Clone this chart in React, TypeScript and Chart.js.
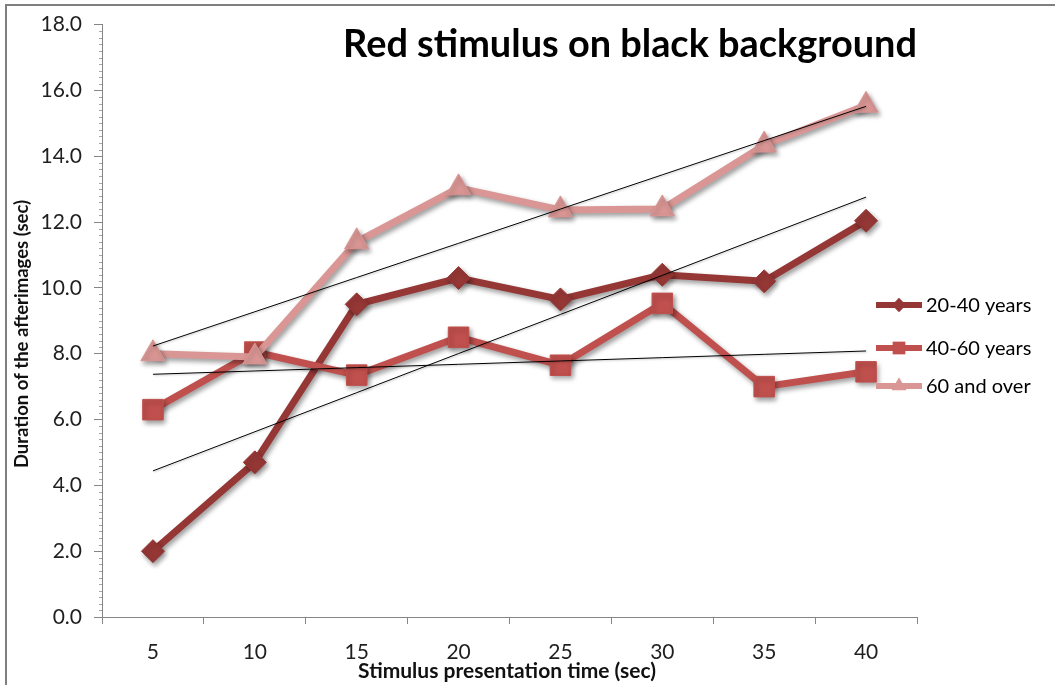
import React, { useEffect, useRef } from "react";
import { Chart, registerables } from "chart.js";

Chart.register(...registerables);

// ---- data ----
const categories = ["5", "10", "15", "20", "25", "30", "35", "40"];
const years20to40 = [2.0, 4.7, 9.5, 10.3, 9.65, 10.4, 10.2, 12.04];
const years40to60 = [6.3, 8.05, 7.35, 8.5, 7.65, 9.53, 7.0, 7.45];
const years60plus = [8.0, 7.9, 11.4, 13.04, 12.37, 12.4, 14.34, 15.55];
const seriesNames = ["20-40 years", "40-60 years", "60 and over"];
const chartTitle = "Red stimulus on black background";
const xAxisTitle = "Stimulus presentation time (sec)";
const yAxisTitle = "Duration of the afterimages (sec)";
const yMin = 0;
const yMax = 18;
const yStep = 2;

// ---- styles ----
const seriesColors = ["#953735", "#C0504D", "#D99694"];
const seriesMarkers = ["rectRot", "rect", "triangle"];
const markerRadii = [11.5, 14.5, 14];
const FONT = "Lato, 'Open Sans', 'DejaVu Sans', sans-serif";
const AXIS_GRAY = "#868686";

function linearTrend(values: number[]): number[] {
  const n = values.length;
  const mx = (n - 1) / 2;
  const my = values.reduce((a, b) => a + b, 0) / n;
  let sxy = 0;
  let sxx = 0;
  values.forEach((v, i) => {
    sxy += (i - mx) * (v - my);
    sxx += (i - mx) * (i - mx);
  });
  const slope = sxy / sxx;
  return values.map((_, i) => my + slope * (i - mx));
}

const allSeries = [years20to40, years40to60, years60plus];

function drawMarker(ctx: CanvasRenderingContext2D, style: string, x: number, y: number, r: number) {
  ctx.beginPath();
  if (style === "rectRot") {
    ctx.moveTo(x, y - r);
    ctx.lineTo(x + r, y);
    ctx.lineTo(x, y + r);
    ctx.lineTo(x - r, y);
  } else if (style === "rect") {
    const s = r * Math.SQRT1_2;
    ctx.rect(x - s, y - s, 2 * s, 2 * s);
  } else {
    ctx.moveTo(x, y - r);
    ctx.lineTo(x + r * Math.sin((2 * Math.PI) / 3), y - r * Math.cos((2 * Math.PI) / 3));
    ctx.lineTo(x + r * Math.sin((4 * Math.PI) / 3), y - r * Math.cos((4 * Math.PI) / 3));
  }
  ctx.closePath();
  ctx.fill();
}

const shadowPlugin = {
  id: "excelShadow",
  beforeDatasetDraw(chart: any, args: any) {
    const ds = chart.data.datasets[args.index];
    const ctx = chart.ctx;
    ctx.save();
    if (!ds.isTrend) {
      ctx.shadowColor = "rgba(0,0,0,0.4)";
      ctx.shadowBlur = 5;
      ctx.shadowOffsetX = 2;
      ctx.shadowOffsetY = 3;
    } else {
      ctx.shadowColor = "rgba(0,0,0,0.25)";
      ctx.shadowBlur = 2;
      ctx.shadowOffsetX = 1;
      ctx.shadowOffsetY = 1;
    }
  },
  afterDatasetDraw(chart: any) {
    chart.ctx.restore();
  },
};

const decorPlugin = {
  id: "decor",
  afterDraw(chart: any) {
    const ctx: CanvasRenderingContext2D = chart.ctx;
    const yScale = chart.scales.y;
    const area = chart.chartArea;
    ctx.save();

    // outer frame (top & left visible)
    ctx.fillStyle = "#7f7f7f";
    ctx.fillRect(5, 4, chart.width, 2);
    ctx.fillRect(5, 4, 2, chart.height);

    // minor ticks on y axis
    ctx.strokeStyle = "#a6a6a6";
    ctx.lineWidth = 1;
    for (let k = 1; k < (yMax - yMin) / 0.2; k++) {
      if (k % 10 === 0) continue;
      const v = yMin + k * 0.2;
      const py = Math.round(yScale.getPixelForValue(v)) + 0.5;
      ctx.beginPath();
      ctx.moveTo(area.left - 3, py);
      ctx.lineTo(area.left, py);
      ctx.stroke();
    }

    // title
    ctx.fillStyle = "#000";
    ctx.textBaseline = "middle";
    ctx.textAlign = "center";
    ctx.font = `bold 40px ${FONT}`;
    const w40 = ctx.measureText(chartTitle).width;
    const tSize = (40 * 574) / w40;
    ctx.font = `bold ${tSize.toFixed(1)}px ${FONT}`;
    ctx.fillText(chartTitle, 630, 45);

    // axis titles
    ctx.fillStyle = "#111";
    ctx.font = `bold 18.5px ${FONT}`;
    ctx.save();
    ctx.translate(22, 334);
    ctx.rotate(-Math.PI / 2);
    ctx.fillText(yAxisTitle, 0, 0);
    ctx.restore();
    ctx.font = `bold 21px ${FONT}`;
    ctx.fillText(xAxisTitle, 507, 671);

    // legend
    const legendY = [305, 348, 386];
    seriesNames.forEach((name, i) => {
      const y = legendY[i];
      ctx.strokeStyle = seriesColors[i];
      ctx.lineWidth = 6;
      ctx.beginPath();
      ctx.moveTo(876, y);
      ctx.lineTo(922, y);
      ctx.stroke();
      ctx.fillStyle = seriesColors[i];
      drawMarker(ctx, seriesMarkers[i], 899, y, markerRadii[i] * 0.62);
      ctx.fillStyle = "#000";
      ctx.textAlign = "left";
      ctx.font = `20px ${FONT}`;
      ctx.fillText(name, 926, y + 1);
    });
    ctx.restore();
  },
};

export default function App() {
  const ref = useRef<HTMLCanvasElement | null>(null);

  useEffect(() => {
    const canvas = ref.current;
    if (!canvas) return;

    const seriesDatasets = allSeries.map((vals, i) => ({
      label: seriesNames[i],
      data: vals,
      borderColor: seriesColors[i],
      backgroundColor: seriesColors[i],
      borderWidth: 7,
      pointStyle: seriesMarkers[i],
      pointRadius: markerRadii[i],
      pointBorderWidth: 1,
      pointBackgroundColor: seriesColors[i],
      pointBorderColor: seriesColors[i],
      tension: 0,
      order: 3 - i,
      isTrend: false,
    }));
    const trendDatasets = allSeries.map((vals, i) => ({
      label: `Linear (${seriesNames[i]})`,
      data: linearTrend(vals),
      borderColor: "#000",
      borderWidth: 1,
      pointRadius: 0,
      tension: 0,
      order: 0,
      isTrend: true,
    }));

    const chart = new Chart(canvas, {
      type: "line",
      data: {
        labels: categories,
        datasets: [...seriesDatasets, ...trendDatasets] as any,
      },
      options: {
        animation: false,
        responsive: true,
        maintainAspectRatio: false,
        layout: { padding: { left: 0, top: 22, right: 138, bottom: 0 } },
        plugins: {
          legend: { display: false },
          title: { display: false },
          tooltip: { enabled: false },
        },
        scales: {
          x: {
            offset: true,
            grid: {
              offset: true,
              drawOnChartArea: false,
              tickLength: 7,
              color: AXIS_GRAY,
            },
            border: { color: AXIS_GRAY, width: 1 },
            ticks: {
              color: "#1f1f1f",
              font: { family: FONT, size: 21 },
              padding: 16,
              maxRotation: 0,
            },
            afterFit: (s: any) => {
              s.height = 68;
            },
          },
          y: {
            min: yMin,
            max: yMax,
            grid: {
              drawOnChartArea: false,
              tickLength: 8,
              color: AXIS_GRAY,
            },
            border: { color: AXIS_GRAY, width: 1 },
            ticks: {
              stepSize: yStep,
              color: "#1f1f1f",
              font: { family: FONT, size: 21 },
              padding: 12,
              callback: (v: any) => Number(v).toFixed(1),
            },
            afterFit: (s: any) => {
              s.width = 102;
            },
          },
        },
      } as any,
      plugins: [shadowPlugin, decorPlugin],
    });
    return () => chart.destroy();
  }, []);

  return (
    <div
      style={{
        position: "absolute",
        left: 0,
        top: 0,
        width: 1055,
        height: 685,
        background: "#fff",
      }}
    >
      <canvas ref={ref} />
    </div>
  );
}
